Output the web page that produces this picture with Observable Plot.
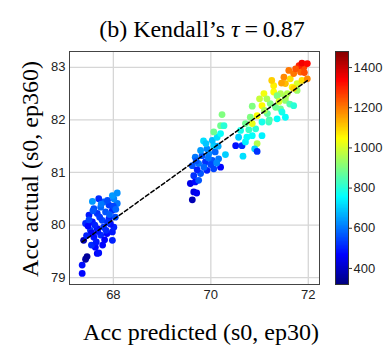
<!DOCTYPE html>
<html><head><meta charset="utf-8">
<script src="https://cdn.jsdelivr.net/npm/d3@7"></script>
<script src="https://cdn.jsdelivr.net/npm/@observablehq/plot@0.6"></script>
<style>
body{margin:0;background:#fff;}
#wrap{position:relative;width:386px;height:346px;overflow:hidden;background:#fff;}
#wrap svg{position:absolute;top:0;}
.lbl{position:absolute;font-family:"Liberation Serif","Times New Roman",serif;font-size:24px;line-height:24px;color:#000;white-space:nowrap;}
</style></head><body>
<div id="wrap">
  <div class="lbl" id="title" style="left:202px;top:17px;transform:translateX(-50%);">(b) Kendall’s <i>τ</i>&#8201;=&#8201;0.87</div>
  <div class="lbl" id="xlab" style="left:201px;top:320px;transform:translateX(-50%);">Acc predicted (s0, ep30)</div>
  <div class="lbl" id="ylab" style="left:30px;top:169px;transform:translate(-50%,-50%) rotate(-90deg);">Acc actual (s0, ep360)</div>
</div>
<script>
// ---- data ----
const accPredicted = [
  // cluster near 68
  67.36,67.36,67.43,67.46,67.67,67.70,67.63,67.55,67.39,67.98,67.60,67.74,67.87,67.98,67.53,67.67,67.80,68.01,67.43,67.57,
  67.77,67.91,68.04,67.50,67.67,67.84,67.98,67.60,67.74,67.91,68.08,67.57,67.80,68.01,67.98,68.08,67.70,67.88,67.48,67.62,
  67.94,67.85,67.72,67.55,67.82,68.00,67.65,67.92,67.75,67.50,67.45,67.58,67.88,68.05,67.68,67.78,
  // cluster near 70
  69.62,69.65,69.71,69.58,69.68,69.75,69.65,69.79,69.92,70.06,70.20,69.62,69.75,69.89,70.03,70.16,69.68,69.82,69.96,70.09,
  70.30,69.79,69.92,70.06,69.85,70.03,70.13,70.06,70.20,70.20,70.27,70.23,69.72,69.86,70.00,69.95,70.12,69.70,69.90,70.15,
  // cluster 70.5 - 72
  70.66,70.51,70.64,70.71,70.95,70.57,70.74,70.85,71.05,70.61,70.78,70.92,70.71,70.85,71.05,71.19,70.81,70.95,71.16,71.36,
  70.85,71.05,71.22,71.43,71.53,71.09,71.29,71.43,71.53,71.29,71.53,71.50,71.63,71.70,71.84,71.91,71.81,71.87,71.98,71.74,
  71.60,71.67,71.77,71.87,71.36,71.57,71.46,71.53,71.33,71.77,71.98,71.00,71.15,71.62,71.40,71.70,71.92,71.20,70.90,71.25,
  71.45,71.10,70.95,71.70
];
const accActual = [
  79.08,79.24,79.35,79.40,79.46,79.47,79.58,79.62,79.71,79.71,79.77,79.81,79.84,79.87,79.90,79.93,79.96,79.96,80.03,80.06,
  80.09,80.12,80.15,80.19,80.22,80.25,80.28,80.31,80.34,80.38,80.41,80.45,80.44,80.50,80.56,80.61,80.50,80.47,79.98,80.00,
  80.02,79.90,80.15,79.85,79.72,80.36,79.68,80.20,80.40,80.10,79.80,80.27,80.05,80.30,79.88,79.62,
  80.48,80.63,80.61,80.79,80.82,80.85,80.94,80.98,81.04,81.07,81.10,81.13,81.17,81.20,81.23,81.26,81.29,81.32,81.36,81.39,
  81.34,81.42,81.45,81.51,81.60,81.61,81.67,81.77,81.74,81.89,81.89,82.10,81.05,81.10,81.15,81.28,81.18,81.22,81.55,81.50,
  81.31,81.51,81.51,81.58,81.55,81.67,81.67,81.70,81.70,81.80,81.81,81.83,81.93,81.93,81.96,81.96,82.05,82.08,82.12,82.02,
  82.26,82.27,82.31,82.21,82.37,82.50,82.53,82.50,82.43,82.65,82.69,82.81,82.78,82.88,82.91,83.00,83.03,83.08,83.07,82.97,
  82.94,82.62,82.69,82.75,82.46,82.50,82.15,82.05,82.24,82.56,82.78,82.40,82.40,82.30,82.35,82.60,82.90,82.00,81.45,82.75,
  82.70,82.18,81.40,82.27
];
const colorValue = [
  470,480,360,350,460,480,470,510,380,500,480,510,470,490,530,460,520,500,510,480,
  540,500,550,490,520,560,510,550,580,530,600,640,570,620,640,630,510,550,470,500,
  480,510,530,450,460,540,490,570,600,540,500,560,520,580,490,470,
  380,430,450,440,470,560,520,560,500,540,470,560,600,520,560,600,600,560,620,580,
  700,640,620,700,720,680,720,880,760,880,800,900,500,580,540,600,620,560,690,660,
  720,480,520,740,960,700,760,760,740,780,820,800,880,1020,780,820,900,1040,860,760,
  900,1050,900,880,920,1030,1040,960,940,1060,1120,1180,1080,1200,1220,1260,1300,1350,1330,1240,
  1200,1050,1000,1080,900,960,780,760,880,930,1180,980,950,850,1000,1100,1250,840,700,1100,
  1150,950,520,800
];
const fitX = [67.36, 72.0];
const fitY = [79.68, 82.76];
const xTicks = [68, 70, 72];
const yTicks = [79, 80, 81, 82, 83];
const cbTicks = [400, 600, 800, 1000, 1200, 1400];
const colorDomain = [320, 1480];

// ---- build ----
const points = accPredicted.map((x, i) => ({x, y: accActual[i], c: colorValue[i]}));
const fit = fitX.map((x, i) => ({x, y: fitY[i]}));

const clamp = v => Math.max(0, Math.min(1, v));
function jet(t) {
  const r = clamp(Math.min(4*t - 1.5, -4*t + 4.5));
  const g = clamp(Math.min(4*t - 0.5, -4*t + 3.5));
  const b = clamp(Math.min(4*t + 0.5, -4*t + 2.5));
  return d3.rgb(r*255, g*255, b*255).formatHex();
}
const fmt = d => String(d);
const colorScale = {type: "linear", domain: colorDomain, interpolate: jet};
const tickStyle = {fontFamily: "'Liberation Sans', Arial, sans-serif", fontSize: "13px", color: "#222", background: "transparent", overflow: "visible"};

const main = Plot.plot({
  width: 335, height: 346,
  marginTop: 51, marginBottom: 62, marginLeft: 69, marginRight: 16,
  style: tickStyle,
  x: {domain: [67.10, 72.23], label: null},
  y: {domain: [78.87, 83.30], label: null},
  color: colorScale,
  marks: [
    Plot.gridX(xTicks, {stroke: "#d6d6d6", strokeOpacity: 1, strokeWidth: 1.3}),
    Plot.gridY(yTicks, {stroke: "#d6d6d6", strokeOpacity: 1, strokeWidth: 1.3}),
    Plot.dot(points, {x: "x", y: "y", fill: "c", r: 3.4}),
    Plot.line(fit, {x: "x", y: "y", stroke: "#000", strokeWidth: 1.5, strokeDasharray: "4,2.5"}),
    Plot.frame({stroke: "#444", strokeWidth: 1}),
    Plot.axisX(xTicks, {tickSize: 0, tickPadding: 5, label: null, fill: "#222", tickFormat: fmt}),
    Plot.axisY(yTicks, {tickSize: 0, tickPadding: 4, label: null, fill: "#222", tickFormat: fmt})
  ]
});
main.style.left = "0px";

const steps = d3.range(colorDomain[0], colorDomain[1], 4).map(a => ({a, b: Math.min(a + 4.5, colorDomain[1]), v: a + 2}));
const cb = Plot.plot({
  width: 51, height: 346,
  marginTop: 51, marginBottom: 62, marginLeft: 0, marginRight: 38,
  style: tickStyle,
  y: {domain: colorDomain, label: null},
  color: colorScale,
  marks: [
    Plot.rect(steps, {y1: "a", y2: "b", fill: "v", shapeRendering: "crispEdges"}),
    Plot.frame({stroke: "#333", strokeWidth: 1}),
    Plot.axisY(cbTicks, {anchor: "right", tickSize: 3, tickPadding: 2, label: null, fill: "#222", stroke: "#333", tickFormat: fmt})
  ]
});
cb.style.left = "335px";

const wrap = document.getElementById("wrap");
wrap.insertBefore(cb, wrap.firstChild);
wrap.insertBefore(main, wrap.firstChild);
</script>
</body></html>
